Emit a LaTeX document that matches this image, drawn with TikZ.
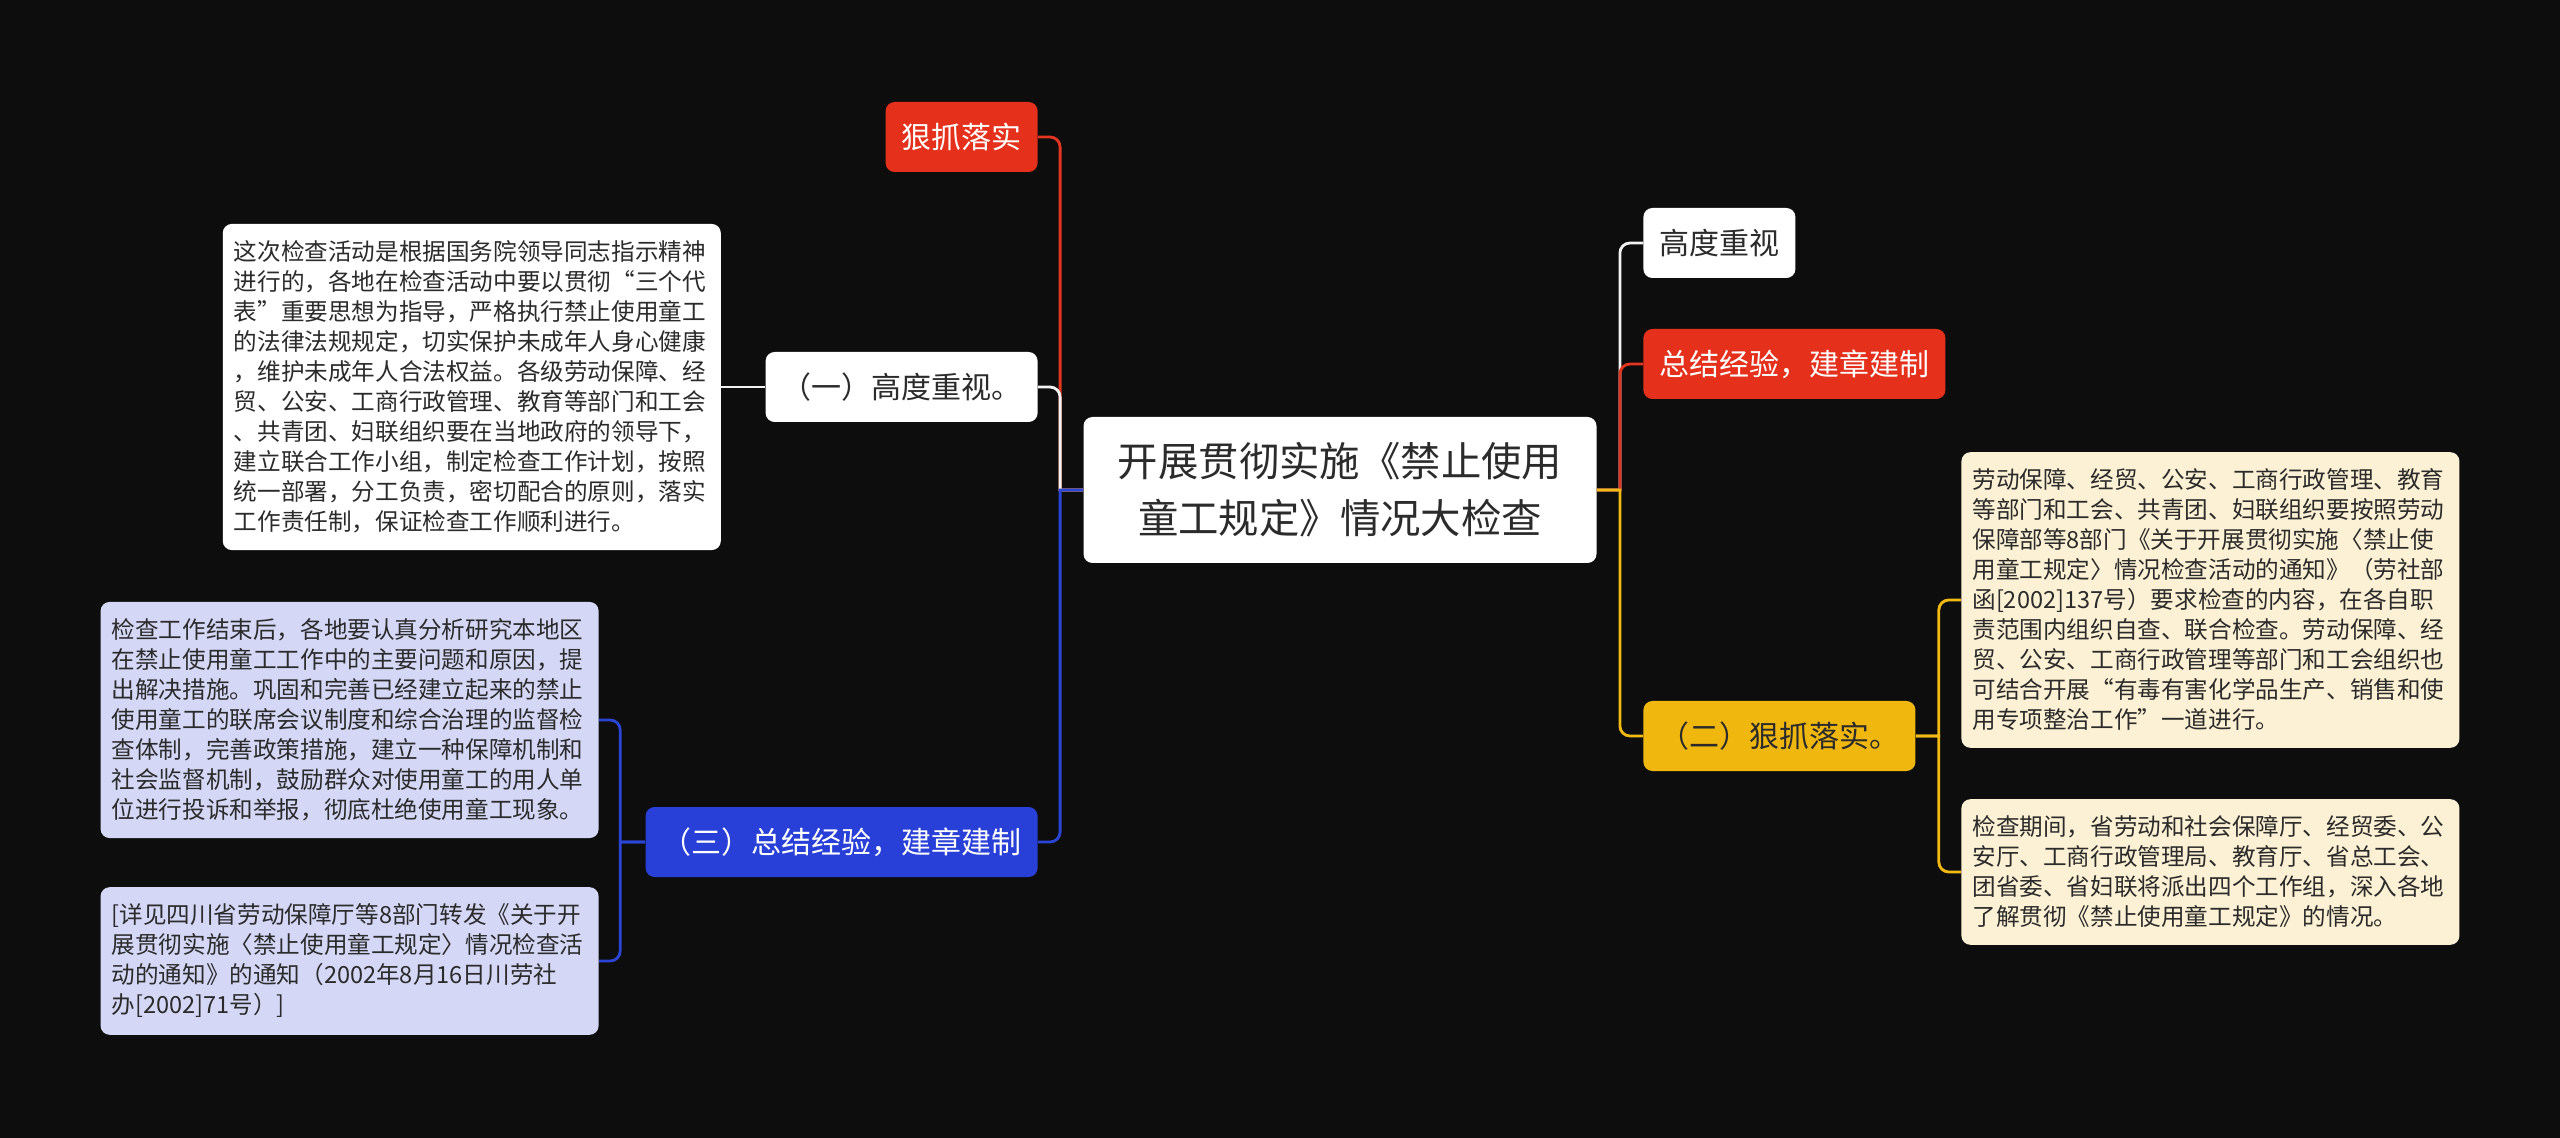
\documentclass[tikz,border=0pt]{standalone}
\usepackage{fontspec}
\setmainfont{Noto Sans CJK SC}
\usepackage{tikz}
\usetikzlibrary{positioning}
\definecolor{bgdark}{HTML}{0D0D0D}
\definecolor{inkdark}{HTML}{2B2B2B}
\definecolor{redbox}{HTML}{E5301C}
\definecolor{bluebox}{HTML}{2940D8}
\definecolor{yellowbox}{HTML}{F0B70F}
\definecolor{lavbox}{HTML}{D4D8F6}
\definecolor{creambox}{HTML}{FCF1D4}
\definecolor{redline}{HTML}{E3351F}
\definecolor{blueline}{HTML}{2B45D6}
\definecolor{yellowline}{HTML}{F2BA13}
\definecolor{whiteline}{HTML}{F2F2F2}
\tikzset{
  mapbox/.style={
    rectangle, rounded corners=4.5pt, fill=#1, text=inkdark,
    inner xsep=8pt, minimum height=35pt,
    font=\fontsize{15pt}{18pt}\selectfont
  },
  mapbox/.default=white,
  notebox/.style={
    rectangle, rounded corners=4.5pt, fill=#1, text=inkdark,
    text width=238pt, inner xsep=5.5pt, inner ysep=8.4pt, align=left,
    font=\fontsize{11.8pt}{15pt}\selectfont
  },
  notebox/.default=white,
  mapline/.style={draw=#1, line width=1.4pt}
}
\begin{document}
\begin{tikzpicture}[x=0.5pt, y=-0.5pt]
\fill[bgdark] (0,0) rectangle (2560,1138);

\node[mapbox, minimum width=256.5pt, minimum height=73pt, align=center,
  font=\fontsize{20.2pt}{28.5pt}\selectfont] (topic) at (1340,490)
  {开展贯彻实施《禁止使用\\童工规定》情况大检查};

% left side
\node[mapbox=redbox, text=white, anchor=east] (grab) at (1038,137) {狠抓落实};
\node[mapbox, anchor=east] (focus) at (1038,387) {（一）高度重视。};
\node[notebox, left=22pt of focus] (focusnote) {这次检查活动是根据国务院领导同志指示精神\\进行的，各地在检查活动中要以贯彻“三个代\\表”重要思想为指导，严格执行禁止使用童工\\的法律法规规定，切实保护未成年人身心健康\\，维护未成年人合法权益。各级劳动保障、经\\贸、公安、工商行政管理、教育等部门和工会\\、共青团、妇联组织要在当地政府的领导下，\\建立联合工作小组，制定检查工作计划，按照\\统一部署，分工负责，密切配合的原则，落实\\工作责任制，保证检查工作顺利进行。};
\node[mapbox=bluebox, text=white, anchor=east] (review) at (1038,842) {（三）总结经验，建章建制};
\node[notebox=lavbox, anchor=east] (reviewnote1) at (599,720) {检查工作结束后，各地要认真分析研究本地区\\在禁止使用童工工作中的主要问题和原因，提\\出解决措施。巩固和完善已经建立起来的禁止\\使用童工的联席会议制度和综合治理的监督检\\查体制，完善政策措施，建立一种保障机制和\\社会监督机制，鼓励群众对使用童工的用人单\\位进行投诉和举报，彻底杜绝使用童工现象。};
\node[notebox=lavbox, anchor=east] (reviewnote2) at (599,961) {[详见四川省劳动保障厅等8部门转发《关于开\\展贯彻实施〈禁止使用童工规定〉情况检查活\\动的通知》的通知（2002年8月16日川劳社\\办[2002]71号）]};

% right side
\node[mapbox, anchor=west] (rfocus) at (1643,243) {高度重视};
\node[mapbox=redbox, text=white, anchor=west] (rreview) at (1643,364) {总结经验，建章建制};
\node[mapbox=yellowbox, anchor=west] (rgrab) at (1643,736) {（二）狠抓落实。};
\node[notebox=creambox, anchor=west] (rgrabnote1) at (1961,600) {劳动保障、经贸、公安、工商行政管理、教育\\等部门和工会、共青团、妇联组织要按照劳动\\保障部等8部门《关于开展贯彻实施〈禁止使\\用童工规定〉情况检查活动的通知》（劳社部\\函[2002]137号）要求检查的内容，在各自职\\责范围内组织自查、联合检查。劳动保障、经\\贸、公安、工商行政管理等部门和工会组织也\\可结合开展“有毒有害化学品生产、销售和使\\用专项整治工作”一道进行。};
\node[notebox=creambox, anchor=west] (rgrabnote2) at (1961,872) {检查期间，省劳动和社会保障厅、经贸委、公\\安厅、工商行政管理局、教育厅、省总工会、\\团省委、省妇联将派出四个工作组，深入各地\\了解贯彻《禁止使用童工规定》的情况。};

% connectors
\draw[mapline=redline] (topic.west) -- ++(-23,0) [rounded corners=5pt] |- (grab.east);
\draw[mapline=whiteline] (topic.west) -- ++(-23,0) [rounded corners=5pt] |- (focus.east);
\draw[mapline=blueline] (topic.west) -- ++(-23,0) [rounded corners=5pt] |- (review.east);
\draw[mapline=whiteline] (focus.west) -- (focusnote.east);
\draw[mapline=blueline] (review.west) -- ++(-25,0) [rounded corners=5pt] |- (reviewnote1.east);
\draw[mapline=blueline] (review.west) -- ++(-25,0) [rounded corners=5pt] |- (reviewnote2.east);
\draw[mapline=whiteline] (topic.east) -- ++(23,0) [rounded corners=5pt] |- (rfocus.west);
\draw[mapline=redline] (topic.east) -- ++(23,0) [rounded corners=5pt] |- (rreview.west);
\draw[mapline=yellowline] (topic.east) -- ++(23,0) [rounded corners=5pt] |- (rgrab.west);
\draw[mapline=yellowline] (rgrab.east) -- ++(23,0) [rounded corners=5pt] |- (rgrabnote1.west);
\draw[mapline=yellowline] (rgrab.east) -- ++(23,0) [rounded corners=5pt] |- (rgrabnote2.west);
\end{tikzpicture}
\end{document}
